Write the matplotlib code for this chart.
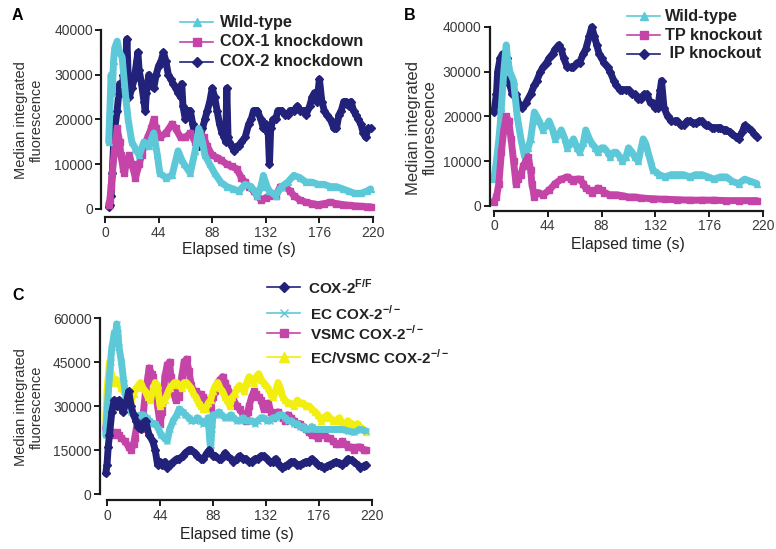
import numpy as np
import matplotlib
matplotlib.use('Agg')
import matplotlib.pyplot as plt
from matplotlib.lines import Line2D

plt.rcParams['font.family'] = ['Liberation Sans', 'DejaVu Sans']
plt.rcParams['mathtext.fontset'] = 'custom'
plt.rcParams['mathtext.bf'] = 'Liberation Sans:bold'
plt.rcParams['mathtext.rm'] = 'Liberation Sans'

W, H = 776, 549

CYAN = '#5cc8d8'
MAGENTA = '#c444a8'
NAVY = '#22227a'
YELLOW = '#f2ee10'
XTICKS = [0, 44, 88, 132, 176, 220]

# ---- Panel A ----
a_wt_t = [3, 4, 5, 6, 7, 8, 10, 12, 14, 16, 17, 19, 22, 25, 28, 32, 36, 40, 43, 45, 50, 55, 60, 63, 65, 70,
          74, 77, 80, 82, 86, 90, 95, 100, 105, 110, 115, 120, 125, 128, 130, 133, 135, 140, 145, 150, 155,
          160, 165, 170, 175, 180, 185, 190, 195, 200, 205, 210, 215, 218]
a_wt_v = [15000, 22000, 30000, 26000, 33000, 36000, 37500, 35000, 34000, 28000, 25000, 20000, 15000, 13500,
          12000, 15000, 14000, 17000, 12000, 8000, 7000, 7500, 13000, 11000, 10000, 8000, 13000, 18000,
          15000, 12000, 10000, 8000, 6000, 5000, 4500, 4000, 5500, 5000, 3000, 5000, 7500, 5000, 4000, 3000,
          5000, 6000, 7500, 7000, 6000, 6000, 5500, 5500, 5000, 5000, 4500, 4000, 3500, 3500, 4000, 4500]
a_c1_t = [3, 4, 5, 6, 8, 10, 12, 13, 15, 16, 18, 20, 22, 25, 28, 30, 32, 35, 38, 40, 42, 45, 50, 55, 58,
          62, 66, 70, 74, 78, 81, 84, 88, 92, 95, 100, 104, 108, 112, 115, 118, 122, 125, 128, 132, 135, 140,
          144, 148, 152, 155, 160, 165, 170, 175, 180, 185, 190, 195, 200, 205, 210, 215, 218]
a_c1_v = [1000, 2000, 5000, 8000, 14000, 18000, 15000, 12000, 9000, 8000, 11000, 12000, 10000, 7000, 10000,
          12000, 14000, 16000, 18000, 20000, 18000, 16000, 17000, 19000, 18000, 16000, 16000, 17000, 15000,
          17000, 16000, 14000, 12000, 11500, 11000, 10000, 9500, 9000, 7000, 6000, 5000, 4000, 3000, 2000,
          2500, 3000, 3000, 5000, 5000, 4000, 3000, 2000, 1500, 1200, 1000, 1200, 1500, 1200, 1000, 800,
          700, 600, 500, 500]
a_c2_t = [3, 4, 5, 6, 7, 8, 10, 12, 14, 15, 16, 17, 18, 19, 20, 22, 24, 26, 27, 28, 30, 32, 33, 34, 36, 38,
          40, 42, 44, 46, 48, 50, 52, 54, 56, 58, 60, 62, 63, 64, 66, 68, 70, 72, 74, 76, 77, 78, 80, 82,
          84, 86, 88, 90, 92, 94, 96, 98, 99, 100, 101, 102, 104, 106, 108, 110, 112, 115, 118, 120, 122,
          125, 128, 130, 132, 134, 135, 136, 138, 140, 142, 145, 148, 150, 152, 155, 158, 160, 163, 165,
          168, 170, 172, 174, 176, 178, 180, 182, 185, 188, 190, 192, 194, 196, 198, 200, 202, 204, 206,
          208, 210, 212, 214, 216, 218]
a_c2_v = [500, 1000, 3000, 8000, 14000, 18000, 22000, 28000, 26000, 30000, 27000, 32000, 38000, 30000,
          25000, 27000, 29000, 33000, 35000, 31000, 28000, 24000, 22000, 26000, 30000, 28000, 27000, 30000,
          32000, 33000, 35000, 33000, 30000, 29000, 28000, 27000, 26000, 25000, 28000, 23000, 20000, 22000,
          22000, 19000, 16000, 15000, 14000, 16000, 18000, 20000, 22000, 24000, 27000, 25000, 22000, 19000,
          17000, 16000, 15000, 27000, 16000, 15000, 14000, 13000, 14000, 14000, 15000, 16000, 19000, 20000,
          22000, 22000, 20000, 18000, 19000, 17000, 10000, 18000, 20000, 20000, 22000, 22000, 21000, 21000,
          22000, 22000, 23000, 22000, 22000, 21000, 23000, 25000, 26000, 24000, 29000, 24000, 22000, 21000,
          20000, 18000, 18000, 21000, 22000, 24000, 24000, 23000, 24000, 22000, 21000, 20000, 19000, 17000,
          16000, 18000, 18000]

# ---- Panel B ----
b_wt_t = [0, 2, 4, 5, 6, 8, 10, 11, 13, 16, 19, 22, 25, 28, 30, 33, 35, 37, 40, 43, 45, 48, 50, 53, 55,
          58, 60, 63, 65, 68, 70, 73, 75, 78, 80, 83, 85, 88, 90, 93, 95, 98, 100, 103, 105, 108, 110, 113,
          115, 118, 122, 124, 126, 128, 130, 133, 135, 140, 145, 150, 155, 160, 165, 170, 175, 180, 185,
          190, 195, 200, 205, 210, 215]
b_wt_v = [6000, 10000, 15000, 18000, 22000, 30000, 36000, 33000, 30000, 28000, 20000, 15000, 11000, 13000,
          15000, 21000, 20000, 19000, 17000, 18000, 19000, 17000, 15000, 16000, 17000, 15000, 13000, 14000,
          15000, 13000, 12000, 14000, 17000, 15000, 14000, 13000, 12000, 13000, 13000, 12000, 11000, 12000,
          12000, 11000, 10000, 11000, 13000, 12000, 11000, 10000, 15000, 14000, 12000, 10000, 8000, 7500,
          7000, 6500, 7000, 7000, 7000, 6500, 7000, 7000, 6500, 6000, 6500, 6500, 5500, 5000, 6000, 5500,
          5000]
b_tp_t = [0, 2, 4, 6, 8, 10, 12, 14, 16, 18, 20, 22, 24, 26, 28, 30, 31, 33, 36, 40, 45, 50, 55, 60, 63,
          65, 68, 70, 73, 75, 78, 80, 83, 85, 88, 90, 95, 100, 105, 110, 115, 120, 130, 140, 150, 160, 170,
          180, 190, 200, 210, 215]
b_tp_v = [1000, 2000, 5000, 12000, 17000, 20000, 19000, 15000, 10000, 5000, 6000, 7000, 9000, 10000, 11000,
          8000, 5000, 2000, 3000, 2500, 3500, 5000, 6000, 6500, 6000, 5500, 6000, 6000, 5000, 4000, 3500,
          3000, 3500, 4000, 3500, 3000, 2500, 2500, 2300, 2000, 2000, 1800, 1600, 1500, 1400, 1300, 1300,
          1300, 1200, 1200, 1200, 1200]
b_ip_t = [0, 2, 3, 5, 7, 9, 11, 13, 15, 18, 20, 23, 26, 30, 33, 35, 38, 40, 43, 45, 48, 50, 53, 55, 57, 60,
          63, 65, 68, 70, 73, 75, 78, 80, 82, 84, 86, 88, 90, 93, 95, 98, 100, 103, 105, 108, 110, 113, 115,
          118, 120, 123, 125, 128, 130, 132, 134, 136, 137, 139, 142, 145, 148, 150, 153, 155, 158, 160,
          163, 165, 168, 170, 173, 175, 178, 180, 183, 185, 188, 190, 193, 195, 198, 200, 203, 205, 208,
          210, 213, 215]
b_ip_v = [21000, 25000, 30000, 33000, 34000, 30000, 33000, 27000, 25000, 25000, 23000, 22000, 23000,
          25000, 27000, 28000, 30000, 31000, 32000, 33000, 34000, 35000, 36000, 35000, 33000, 31000, 31000,
          31000, 32000, 32000, 34000, 35000, 38000, 40000, 38000, 36000, 34000, 33000, 32000, 31000, 30000,
          28000, 27000, 26000, 26000, 26000, 26000, 25000, 25000, 24000, 24000, 25000, 25000, 23000, 23000,
          22000, 22000, 26000, 28000, 22000, 20000, 19000, 19000, 19000, 18000, 18000, 19000, 19000, 18500,
          18500, 19000, 19000, 18000, 18000, 17500, 17500, 17500, 17500, 17000, 17000, 16500, 16000, 15500,
          15000, 16500, 18000, 17500, 17000, 16000, 15500]

# ---- Panel C ----
c_ff_t = [-1, 0, 1, 2, 4, 6, 8, 10, 13, 16, 18, 20, 22, 24, 26, 28, 30, 32, 35, 38, 40, 42, 44, 46, 48, 50,
          52, 55, 58, 60, 63, 65, 68, 70, 73, 75, 78, 80, 83, 85, 88, 90, 93, 95, 98, 100, 103, 105, 108,
          110, 113, 115, 118, 120, 123, 125, 128, 130, 133, 135, 138, 140, 143, 145, 148, 150, 153, 155,
          158, 160, 163, 165, 168, 170, 173, 175, 178, 180, 183, 185, 188, 190, 193, 195, 198, 200, 203,
          205, 208, 210, 213, 215]
c_ff_v = [7000, 10000, 16000, 20000, 28000, 32000, 30000, 32000, 28000, 31000, 35000, 30000, 27000, 25000,
          23000, 22000, 24000, 25000, 20000, 18000, 15000, 10000, 11000, 10000, 11000, 9000, 10000, 11000,
          12000, 12000, 13000, 14000, 15000, 15000, 14000, 13000, 12000, 12000, 14000, 15000, 13000, 13000,
          12000, 12000, 14000, 13000, 12000, 11000, 12000, 13000, 12000, 12000, 11000, 11000, 12000, 12000,
          13000, 13000, 12000, 11000, 11000, 12000, 10000, 9000, 9500, 10000, 11000, 11000, 10000, 10000,
          10500, 11000, 11000, 12000, 11000, 10000, 9500, 9000, 9500, 10000, 10500, 11000, 10500, 10000,
          11000, 12000, 11500, 11000, 10000, 9000, 9500, 10000]
c_ec_t = [-1, 0, 1, 2, 3, 4, 5, 6, 7, 8, 9, 10, 12, 14, 16, 18, 20, 23, 25, 28, 30, 33, 35, 38, 40, 43, 45,
          48, 50, 52, 55, 58, 60, 63, 65, 68, 70, 73, 75, 78, 80, 83, 84, 85, 86, 87, 88, 90, 93, 95, 98,
          100, 103, 105, 108, 110, 113, 115, 118, 120, 123, 125, 128, 130, 133, 135, 138, 140, 143, 145,
          148, 150, 153, 155, 158, 160, 163, 165, 168, 170, 173, 175, 180, 185, 190, 195, 200, 205, 210,
          215]
c_ec_v = [20000, 28000, 34000, 40000, 45000, 50000, 52000, 55000, 53000, 58000, 55000, 50000, 45000, 38000,
          32000, 30000, 28000, 27000, 26000, 27000, 27000, 26000, 25000, 24000, 24000, 22000, 20000, 19000,
          18000, 22000, 25000, 27000, 29000, 28000, 27000, 26000, 25000, 25000, 26000, 25000, 24000, 25000,
          26000, 20000, 15000, 22000, 27000, 27000, 28000, 27000, 26000, 26000, 27000, 26000, 25000, 25000,
          26000, 25000, 25000, 25000, 24000, 25000, 26000, 26000, 25000, 25000, 26000, 26000, 27000, 27000,
          26000, 25000, 25000, 24000, 24000, 23000, 23000, 22000, 22000, 23000, 22000, 22000, 22000, 22000,
          22000, 22000, 21500, 21000, 22000, 21500]
c_vs_t = [-1, 0, 1, 2, 4, 6, 8, 10, 12, 15, 18, 20, 22, 23, 25, 26, 28, 30, 32, 34, 35, 37, 38, 40, 42, 44,
          46, 48, 50, 52, 53, 55, 57, 60, 62, 64, 66, 68, 70, 72, 74, 76, 78, 80, 82, 84, 86, 88, 90, 92, 94,
          96, 98, 100, 103, 105, 108, 110, 113, 115, 117, 118, 120, 122, 124, 126, 128, 130, 132, 134, 136,
          138, 140, 142, 144, 146, 148, 150, 153, 155, 158, 160, 163, 165, 168, 170, 173, 175, 178, 180,
          183, 185, 188, 190, 193, 195, 198, 200, 203, 205, 208, 210, 213, 215]
c_vs_v = [22000, 28000, 25000, 22000, 21000, 20000, 21000, 20000, 19000, 18000, 16000, 15000, 17000, 19000,
          24000, 25000, 22000, 27000, 35000, 40000, 43000, 41000, 40000, 35000, 30000, 24000, 28000, 40000,
          44000, 45000, 40000, 35000, 32000, 33000, 40000, 45000, 46000, 42000, 37000, 35000, 35000, 34000,
          34000, 33000, 32000, 30000, 29000, 33000, 35000, 38000, 39000, 40000, 38000, 36000, 34000, 32000,
          30000, 29000, 27000, 25000, 28000, 30000, 33000, 35000, 34000, 33000, 32000, 29000, 30000, 31000,
          28000, 26000, 27000, 28000, 27000, 26000, 25000, 27000, 26000, 25000, 24000, 24000, 23000, 22000,
          21000, 20000, 20000, 19000, 20000, 21000, 19000, 19000, 18000, 17000, 17000, 18000, 17000, 16000,
          16000, 15000, 16000, 16000, 15000, 15000]
c_dk_t = [-1, 0, 1, 2, 3, 4, 6, 8, 10, 12, 14, 16, 18, 20, 22, 24, 26, 28, 30, 32, 34, 36, 38, 40, 42, 44,
          46, 48, 50, 52, 54, 56, 58, 60, 62, 64, 66, 68, 70, 72, 74, 76, 78, 80, 82, 84, 86, 88, 90, 92,
          94, 96, 98, 100, 102, 104, 106, 108, 110, 112, 114, 116, 118, 120, 122, 124, 126, 128, 130, 132,
          134, 136, 138, 140, 142, 144, 146, 148, 150, 152, 155, 158, 160, 163, 165, 168, 170, 173, 175,
          178, 180, 183, 185, 188, 190, 193, 195, 198, 200, 203, 205, 208, 210, 213, 215]
c_dk_v = [25000, 35000, 40000, 45000, 42000, 40000, 38000, 39000, 38000, 36000, 35000, 34000, 33000, 32000,
          34000, 36000, 37000, 38000, 36000, 35000, 33000, 32000, 35000, 38000, 37000, 30000, 31000, 32000,
          34000, 36000, 37000, 38000, 38000, 37000, 36000, 38000, 38000, 37000, 36000, 34000, 33000, 31000,
          30000, 29000, 29000, 31000, 32000, 35000, 37000, 38000, 36000, 35000, 33000, 32000, 30000, 33000,
          34000, 36000, 37000, 36000, 35000, 38000, 40000, 39000, 38000, 40000, 41000, 39000, 38000, 37000,
          36000, 34000, 33000, 35000, 38000, 36000, 33000, 32000, 31000, 31000, 30000, 32000, 31000, 31000,
          30000, 30000, 29000, 28000, 27000, 25000, 26000, 27000, 26000, 25000, 25000, 26000, 24000, 24000,
          25000, 24000, 23000, 24000, 23000, 22000, 21000]


def fx(x):
    return x / W


def fy(y):
    return 1 - y / H


def make_ax(fig, px0, px220, py0, pytop, ytop, xlim, ylim, yticks, outward):
    sx = (px220 - px0) / 220.0
    sy = (py0 - pytop) / float(ytop)
    left = px0 + xlim[0] * sx
    right = px0 + xlim[1] * sx
    top = py0 - ylim[1] * sy
    bottom = py0 - ylim[0] * sy
    ax = fig.add_axes([fx(left), fy(bottom), (right - left) / W, (bottom - top) / H])
    ax.set_xlim(*xlim)
    ax.set_ylim(*ylim)
    for s in ['top', 'right']:
        ax.spines[s].set_visible(False)
    ax.spines['bottom'].set_position(('outward', outward))
    ax.spines['left'].set_bounds(0, ytop)
    ax.spines['bottom'].set_bounds(0, 220)
    for s in ['left', 'bottom']:
        ax.spines[s].set_linewidth(1.6)
        ax.spines[s].set_color('#1a1a1a')
    ax.set_xticks(XTICKS)
    ax.set_yticks(yticks)
    ax.tick_params(axis='both', direction='out', length=4, width=1.4, color='#1a1a1a',
                   labelsize=10, labelcolor='#3a3a3a', pad=2)
    ax.patch.set_alpha(0)
    return ax


def trace(ax, t, v, color, marker, zorder):
    ax.plot(t, v, color=color, lw=5, marker=marker, ms=4.5, mec=color, mfc=color,
            solid_joinstyle='round', solid_capstyle='round', zorder=zorder)


def legend_row(fig, x1, x2, y, color, marker, ms, label, tx, size=11.7):
    fig.add_artist(Line2D([fx(x1), fx(x2)], [fy(y), fy(y)], transform=fig.transFigure,
                          color=color, lw=1.2))
    fig.add_artist(Line2D([fx((x1 + x2) / 2)], [fy(y)], transform=fig.transFigure,
                          color=color, marker=marker, ms=ms, lw=0))
    fig.text(fx(tx), fy(y), label, fontsize=size, fontweight='bold', color='#222222',
             ha='left', va='center')


def ylabel(fig, x, y, size):
    fig.text(fx(x), fy(y), 'Median integrated\nfluorescence', rotation=90, fontsize=size,
             color='#333333', ha='center', va='center', linespacing=1.15)


fig = plt.figure(figsize=(W / 100, H / 100), dpi=100)
fig.patch.set_facecolor('white')

# Panel A
axA = make_ax(fig, 105, 373, 209, 30, 40000, (-3, 222), (-600, 41500),
              [0, 10000, 20000, 30000, 40000], 4)
trace(axA, a_wt_t, a_wt_v, CYAN, '^', 2)
trace(axA, a_c1_t, a_c1_v, MAGENTA, 's', 1)
trace(axA, a_c2_t, a_c2_v, NAVY, 'D', 0)
axA.set_xlabel('Elapsed time (s)', fontsize=11.3, color='#222222', labelpad=2)
fig.text(fx(12), fy(16), 'A', fontsize=11.5, fontweight='bold', va='center', ha='left')
ylabel(fig, 29, 120, 10.5)
legend_row(fig, 180, 213, 22, CYAN, '^', 6, 'Wild-type', 220)
legend_row(fig, 180, 213, 42, MAGENTA, 's', 6, 'COX-1 knockdown', 220)
legend_row(fig, 180, 213, 62, NAVY, 'D', 5, 'COX-2 knockdown', 220)

# Panel B
axB = make_ax(fig, 494, 763, 206, 27, 40000, (-3.3, 222), (-600, 41500),
              [0, 10000, 20000, 30000, 40000], 1.5)
trace(axB, b_wt_t, b_wt_v, CYAN, '^', 1)
trace(axB, b_tp_t, b_tp_v, MAGENTA, 's', 2)
trace(axB, b_ip_t, b_ip_v, NAVY, 'D', 0)
axB.set_xlabel('Elapsed time (s)', fontsize=11.3, color='#222222', labelpad=3)
fig.text(fx(404), fy(16), 'B', fontsize=11.5, fontweight='bold', va='center', ha='left')
ylabel(fig, 422, 128, 12)
legend_row(fig, 627, 660, 16, CYAN, '^', 6, 'Wild-type', 665)
legend_row(fig, 627, 660, 35, MAGENTA, 's', 6, 'TP knockout', 665)
legend_row(fig, 627, 660, 54, NAVY, 'D', 5, ' IP knockout', 665)

# Panel C
axC = make_ax(fig, 107, 372, 494, 318, 60000, (-5.8, 222), (-1000, 62000),
              [0, 15000, 30000, 45000, 60000], 2.5)
trace(axC, c_vs_t, c_vs_v, MAGENTA, 's', 1)
trace(axC, c_dk_t, c_dk_v, YELLOW, '^', 2)
trace(axC, c_ec_t, c_ec_v, CYAN, 'x', 3)
trace(axC, c_ff_t, c_ff_v, NAVY, 'D', 4)
axC.set_xlabel('Elapsed time (s)', fontsize=11.3, color='#222222', labelpad=3)
fig.text(fx(12), fy(296), 'C', fontsize=11.5, fontweight='bold', va='center', ha='left')
ylabel(fig, 29, 407, 10.5)
legend_row(fig, 267, 300, 287, NAVY, 'D', 5, r'COX-2$^{\mathbf{F/F}}$', 308, 11)
legend_row(fig, 267, 300, 313, CYAN, 'x', 6, r'EC COX-2$^{\mathbf{-/-}}$', 310, 11)
legend_row(fig, 267, 300, 333, MAGENTA, 's', 6, r'VSMC COX-2$^{\mathbf{-/-}}$', 310, 11)
legend_row(fig, 267, 300, 357, YELLOW, '^', 7, r'EC/VSMC COX-2$^{\mathbf{-/-}}$', 310, 11)

fig.savefig('out.png', dpi=100, facecolor='white')
